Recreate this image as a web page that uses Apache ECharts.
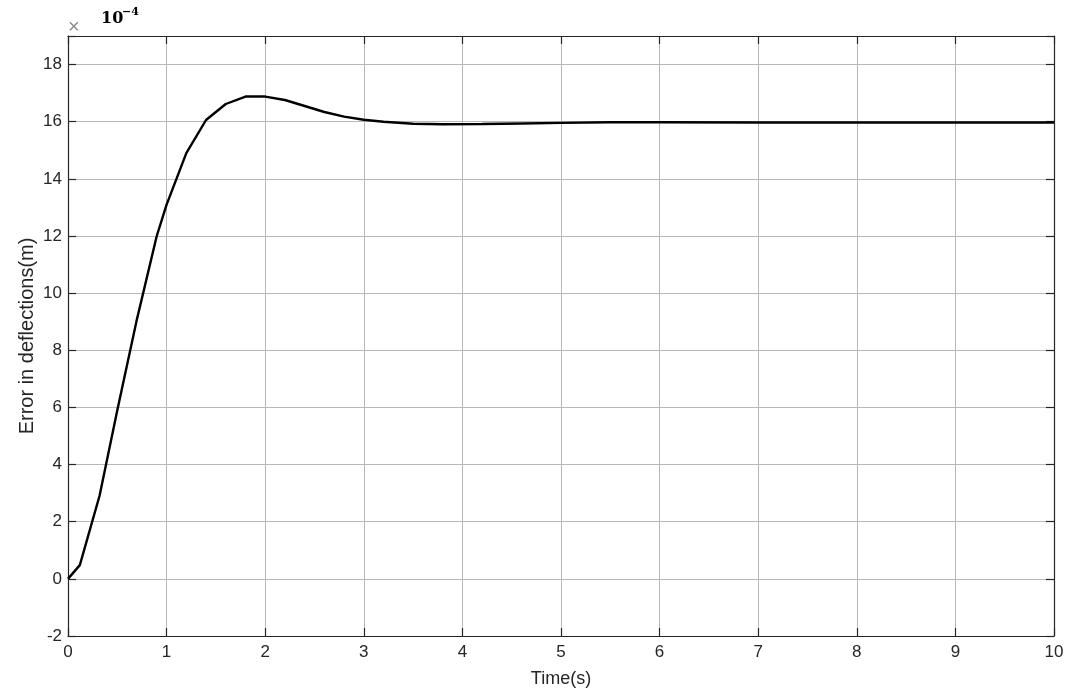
<!DOCTYPE html>
<html>
<head>
<meta charset="utf-8">
<script src="https://cdn.jsdelivr.net/npm/echarts@6/dist/echarts.min.js"></script>
<style>
  html, body { margin: 0; padding: 0; background: #fff; }
  #chart { width: 1080px; height: 698px; }
</style>
</head>
<body>
<div id="chart"></div>
<script>
// time (s) and error in deflection (x 1e-4 m)
const time = [0, 0.12, 0.32, 0.5, 0.7, 0.9, 1.0, 1.2, 1.4, 1.6, 1.8, 2.0, 2.2, 2.4, 2.6, 2.8, 3.0, 3.2, 3.5, 3.8, 4.2, 4.6, 5.0, 5.5, 6, 7, 8, 9, 10]
const deflection = [0, 0.48, 2.91, 5.9, 9.1, 12.0, 13.1, 14.9, 16.06, 16.62, 16.88, 16.88, 16.76, 16.55, 16.34, 16.18, 16.07, 16.0, 15.93, 15.91, 15.92, 15.94, 15.96, 15.98, 15.98, 15.97, 15.97, 15.97, 15.97]
const xTicks = { min: 0, max: 10, step: 1 }
const yTicks = { min: -2, max: 19, step: 2 }

const chart = echarts.init(document.getElementById('chart'))
const font = 'Liberation Sans, Arial, sans-serif'
const axisLine = { show: true, onZero: false, lineStyle: { color: '#262626', width: 1.2 } }
const tick = { show: true, inside: true, length: 8, lineStyle: { color: '#262626', width: 1.2 } }
const grid = { show: true, lineStyle: { color: '#b8b8b8', width: 1 } }

const option = {
  animation: false,
  backgroundColor: '#fff',
  grid: { left: 68, top: 36, right: 26, bottom: 62, containLabel: false },
  graphic: [
    {
      type: 'text', left: 68, top: 17,
      style: { text: '×', fontSize: 20, fill: '#8a8a8a', fontFamily: font }
    },
    {
      type: 'text', left: 101, top: 11,
      style: { text: '10', fontSize: 16, fontWeight: 'bold', fontFamily: 'DejaVu Serif, serif', fill: '#000' }
    },
    {
      type: 'text', left: 122, top: 7,
      style: { text: '−4', fontSize: 11, fontWeight: 'bold', fontFamily: 'DejaVu Serif, serif', fill: '#000' }
    }
  ],
  xAxis: [
    {
      type: 'value', position: 'bottom',
      min: xTicks.min, max: xTicks.max, interval: xTicks.step,
      name: 'Time(s)', nameLocation: 'middle', nameGap: 34,
      nameTextStyle: { fontSize: 18, color: '#262626', fontFamily: font },
      axisLine: axisLine, axisTick: tick, splitLine: grid,
      axisLabel: { fontSize: 17, color: '#262626', fontFamily: font, margin: 8 }
    },
    {
      type: 'value', position: 'top',
      min: xTicks.min, max: xTicks.max, interval: xTicks.step,
      axisLine: axisLine, axisTick: tick, splitLine: { show: false },
      axisLabel: { show: false }
    }
  ],
  yAxis: [
    {
      type: 'value', position: 'left',
      min: yTicks.min, max: yTicks.max, interval: yTicks.step,
      name: 'Error in deflections(m)', nameLocation: 'middle', nameGap: 31,
      nameMoveOverlap: false,
      nameTextStyle: { fontSize: 20, color: '#262626', fontFamily: font },
      axisLine: axisLine, axisTick: tick, splitLine: grid,
      axisLabel: {
        fontSize: 17, color: '#262626', fontFamily: font, margin: 6,
        formatter: v => (v % 2 === 0 ? String(v) : '')
      }
    },
    {
      type: 'value', position: 'right',
      min: yTicks.min, max: yTicks.max, interval: yTicks.step,
      axisLine: axisLine, axisTick: tick, splitLine: { show: false },
      axisLabel: { show: false }
    }
  ],
  series: [
    {
      type: 'line',
      xAxisIndex: 0, yAxisIndex: 0,
      data: time.map((t, i) => [t, deflection[i]]),
      showSymbol: false,
      smooth: false,
      lineStyle: { color: '#000', width: 2.4 },
      z: 5
    }
  ]
}
chart.setOption(option)
</script>
</body>
</html>
